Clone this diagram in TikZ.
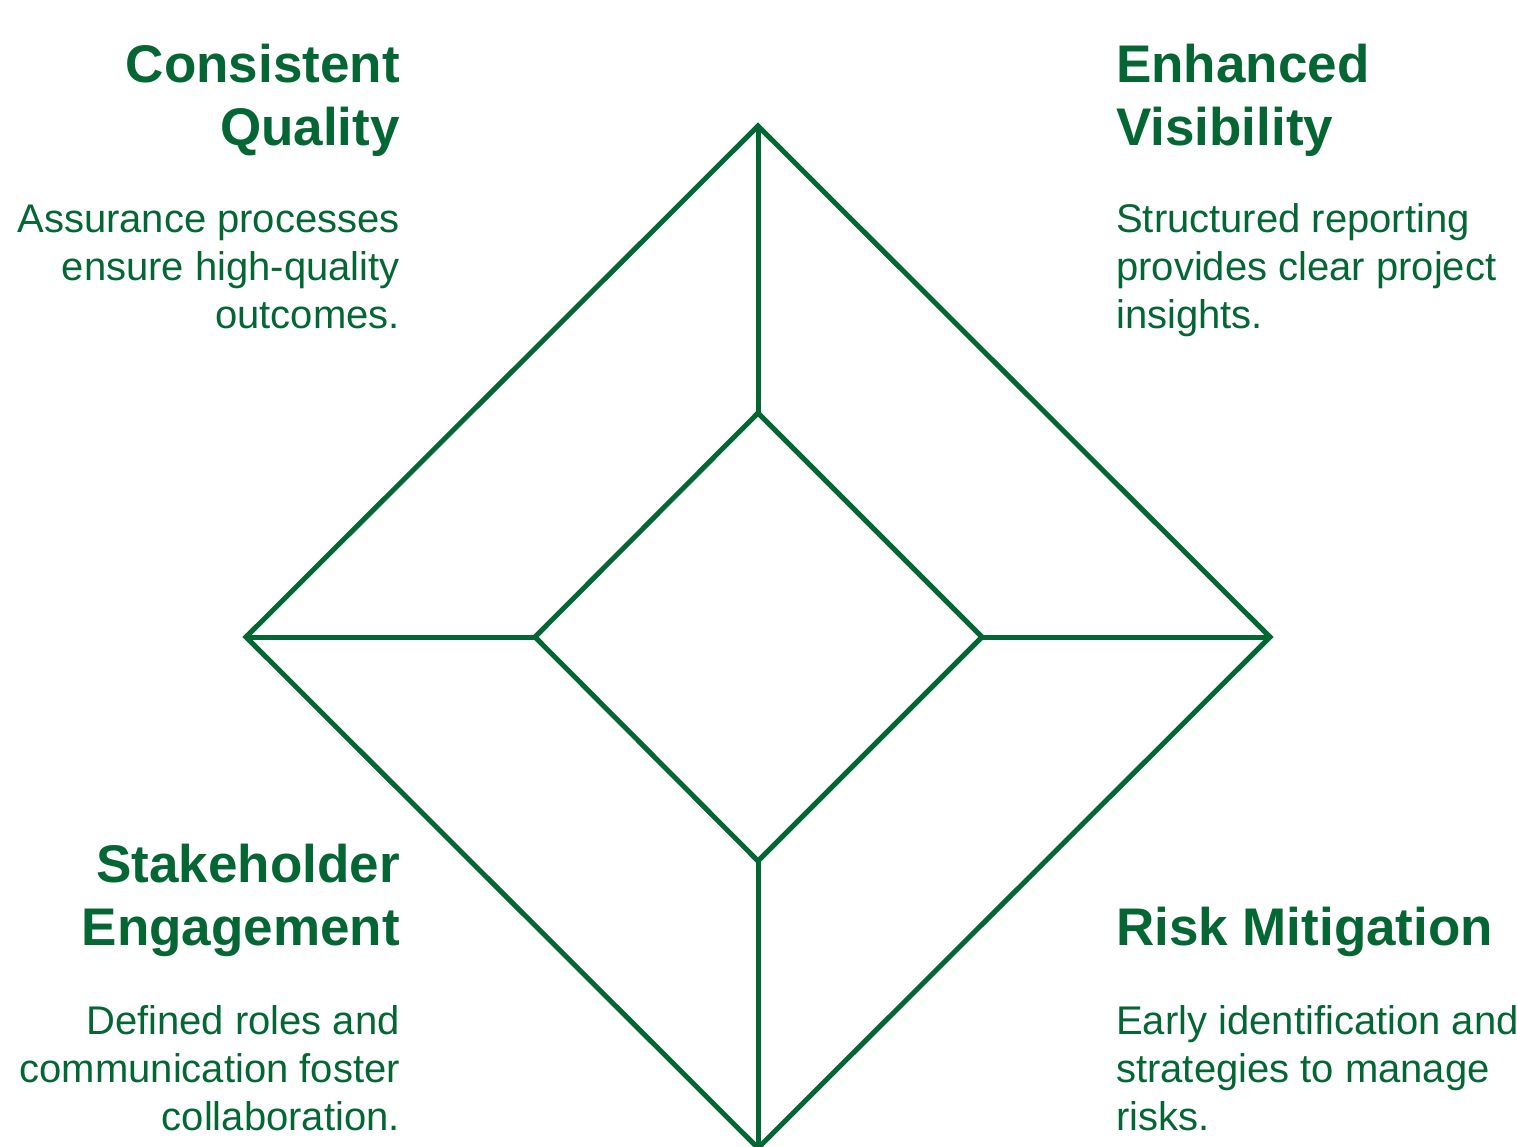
\documentclass[tikz,border=0pt]{standalone}
\usepackage{fontspec}
\setmainfont{Liberation Sans}
\usepackage{xcolor}
\usepackage{tikz}

\definecolor{leafgreen}{RGB}{4,102,51}

\tikzset{
  head/.style={font=\bfseries\fontsize{53}{63}\selectfont, text=leafgreen, inner sep=0pt},
  blurb/.style={font=\fontsize{40}{48}\selectfont, text=leafgreen, inner sep=0pt},
  rim/.style={draw=leafgreen, line width=5pt, line join=miter}
}

\begin{document}
\begin{tikzpicture}[x=1pt,y=-1pt]
	\useasboundingbox (0,0) rectangle (1517,1146);
	% outer and inner corners
	\coordinate (o1) at (758,126);
	\coordinate (o2) at (1270,637);
	\coordinate (o3) at (758,1148);
	\coordinate (o4) at (246,637);
	\coordinate (i1) at (758,413);
	\coordinate (i2) at (982,637);
	\coordinate (i3) at (758,861);
	\coordinate (i4) at (535,637);
	\draw[rim] (o1) -- (o2) -- (o3) -- (o4) -- cycle;
	\draw[rim] (i1) -- (i2) -- (i3) -- (i4) -- cycle;
	\draw[rim] (o1) -- (i1);
	\draw[rim] (o2) -- (i2);
	\draw[rim] (o3) -- (i3);
	\draw[rim] (o4) -- (i4);
	% labels (anchored at the last line)
	\node[head, align=right, anchor=base east] (h1) at (400,145) {Consistent\\Quality};
	\node[blurb, align=right, anchor=base east] (b1) at (400,328) {Assurance processes\\ensure high-quality\\outcomes.};
	\node[head, align=left, anchor=base west] (h2) at (1116,145) {Enhanced\\Visibility};
	\node[blurb, align=left, anchor=base west] (b2) at (1116,328) {Structured reporting\\provides clear project\\insights.};
	\node[head, align=right, anchor=base east] (h3) at (400,945) {Stakeholder\\Engagement};
	\node[blurb, align=right, anchor=base east] (b3) at (400,1130) {Defined roles and\\communication foster\\collaboration.};
	\node[head, align=left, anchor=base west] (h4) at (1116,945) {Risk Mitigation};
	\node[blurb, align=left, anchor=base west] (b4) at (1116,1130) {Early identification and\\strategies to manage\\risks.};
\end{tikzpicture}
\end{document}
